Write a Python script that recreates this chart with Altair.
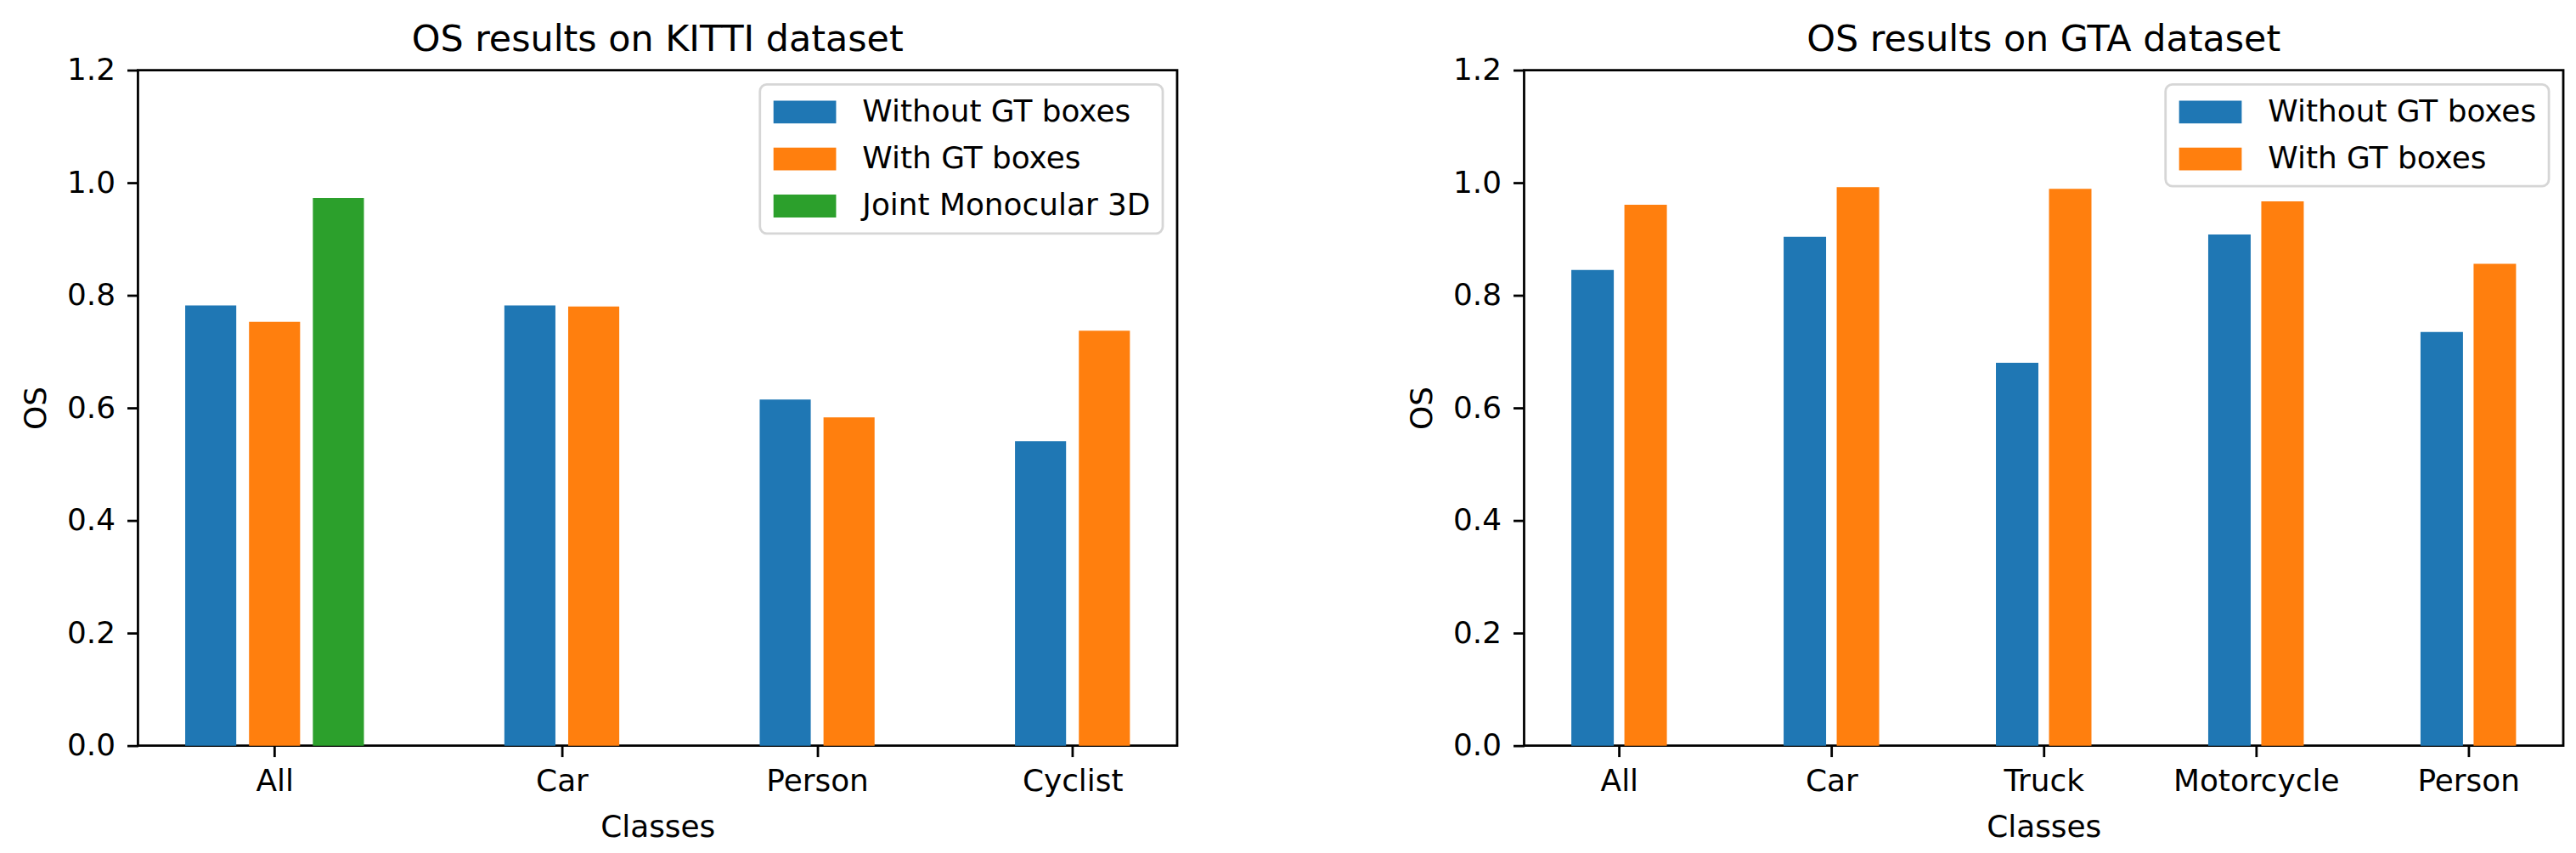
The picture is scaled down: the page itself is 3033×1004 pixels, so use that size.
import altair as alt
import pandas as pd

# ---------------- data ----------------
series_names = ["Without GT boxes", "With GT boxes", "Joint Monocular 3D"]
series_colors = ["#1f77b4", "#ff7f0e", "#2ca02c"]

kitti_classes = ["All", "Car", "Person", "Cyclist"]
kitti_without = [0.782, 0.782, 0.615, 0.541]
kitti_with = [0.753, 0.780, 0.583, 0.737]
kitti_joint = [0.973, None, None, None]

gta_classes = ["All", "Car", "Truck", "Motorcycle", "Person"]
gta_without = [0.845, 0.904, 0.680, 0.908, 0.735]
gta_with = [0.961, 0.992, 0.989, 0.967, 0.856]

FONT = "DejaVu Sans"
BAR_W = 0.2
BAR_STEP = 0.25


def build_table(classes, group_pos, series_values):
    rows = []
    for ci, cls in enumerate(classes):
        present = [(si, vals[ci]) for si, vals in enumerate(series_values) if vals[ci] is not None]
        n = len(present)
        for k, (si, v) in enumerate(present):
            c = group_pos[ci] + (k - (n - 1) / 2) * BAR_STEP
            rows.append({"cls": cls, "series": series_names[si], "value": v,
                         "x0": c - BAR_W / 2, "x1": c + BAR_W / 2})
    return pd.DataFrame(rows)


def panel(title, classes, group_pos, series_values):
    df = build_table(classes, group_pos, series_values)
    lo, hi = df["x0"].min(), df["x1"].max()
    m = 0.05 * (hi - lo)
    n_series = len(series_values)
    label_list = "[" + ",".join("'%s'" % c for c in classes) + "]"
    chart = alt.Chart(df, title=alt.TitleParams(
        title, fontSize=43, font=FONT, fontWeight="normal", color="black",
        baseline="alphabetic", offset=-38, anchor="middle")).mark_bar().encode(
        x=alt.X("x0:Q",
                scale=alt.Scale(domain=[lo - m, hi + m], nice=False, zero=False),
                axis=alt.Axis(values=group_pos, labelExpr=label_list + "[round(datum.value)]",
                              title="Classes", labelPadding=12, titlePadding=19)),
        x2="x1:Q",
        y=alt.Y("value:Q", scale=alt.Scale(domain=[0, 1.2], nice=False),
                axis=alt.Axis(values=[0, 0.2, 0.4, 0.6, 0.8, 1.0, 1.2], format=".1f",
                              title="OS", labelPadding=14, titlePadding=17)),
        y2=alt.datum(0),
        color=alt.Color("series:N",
                        scale=alt.Scale(domain=series_names[:n_series], range=series_colors[:n_series]),
                        sort=series_names[:n_series],
                        legend=alt.Legend(title=None, orient="top-right", offset=17)),
    ).properties(width=1228, height=798)
    return chart


left = panel("OS results on KITTI dataset", kitti_classes, [0.0, 1.125, 2.125, 3.125],
             [kitti_without, kitti_with, kitti_joint])
right = panel("OS results on GTA dataset", gta_classes, [0, 1, 2, 3, 4],
              [gta_without, gta_with])

chart = alt.hconcat(left, right, spacing=268).resolve_scale(color="independent").resolve_legend(
    color="independent"
).properties(
    padding={"left": 15, "top": 14, "right": 5, "bottom": 5}
).configure_view(
    stroke="black", strokeWidth=2.8
).configure_axis(
    grid=False, domain=False, tickColor="black", tickWidth=2.8, tickSize=13,
    labelFont=FONT, labelFontSize=36, labelColor="black", labelLimit=0,
    titleFont=FONT, titleFontSize=36, titleFontWeight="normal", titleColor="black",
).configure_legend(
    labelFont=FONT, labelFontSize=36, labelColor="black", labelLimit=0,
    fillColor="white", strokeColor="#d6d6d6", strokeWidth=2.8, cornerRadius=8,
    padding=14, rowPadding=18.5, labelOffset=49.5, symbolOffset=20.5,
    symbolType="M-2,-0.73L2,-0.73L2,0.73L-2,0.73Z", symbolSize=1369, symbolStrokeWidth=0,
).configure_bar(
    stroke=None
)

chart.save("out.html", embed_options={"renderer": "svg", "actions": False})
